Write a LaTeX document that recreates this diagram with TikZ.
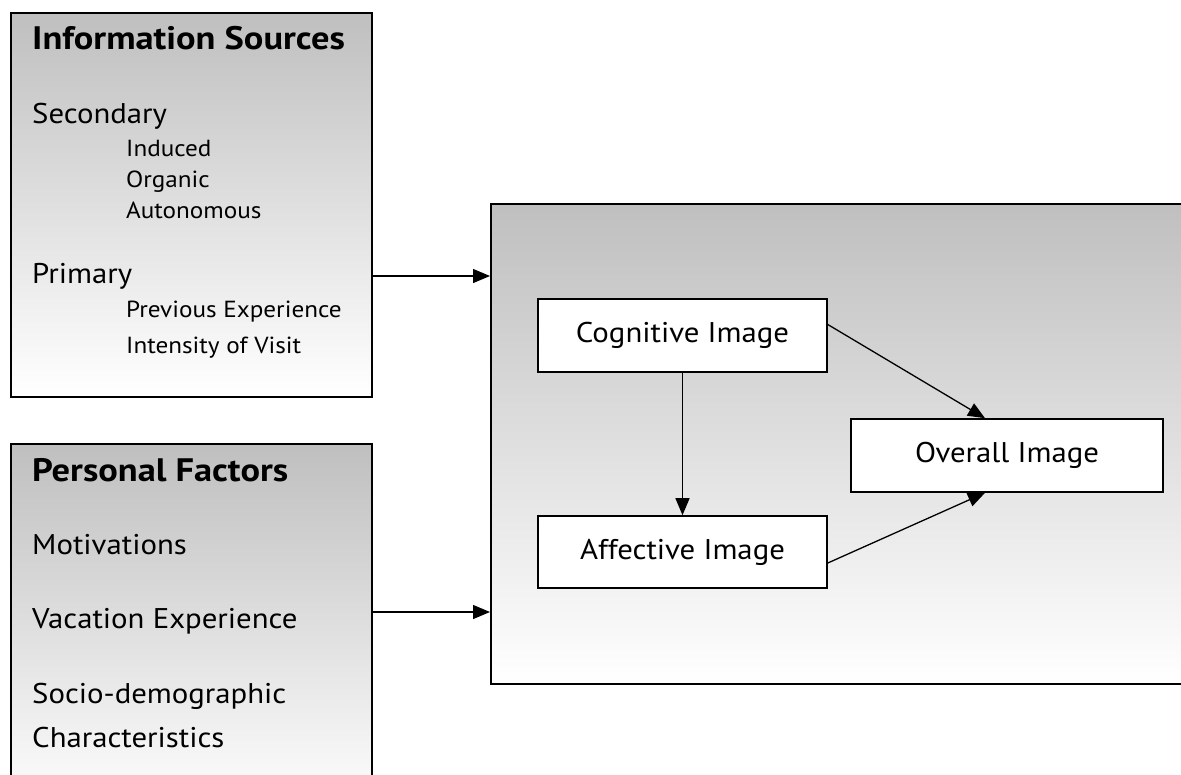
\documentclass[tikz,border=0pt]{standalone}
\usepackage{fontspec}
\setmainfont{PT Sans}[FakeStretch=1.08, BoldFeatures={FakeStretch=1.12}]
\usetikzlibrary{arrows.meta,calc}
\begin{document}
\begin{tikzpicture}[x=1pt,y=-1pt,
  panel/.style={draw=black, line width=1.6pt, top color=gray!50, bottom color=white, anchor=north west, inner sep=0pt},
  imgbox/.style={draw=black, line width=1.6pt, fill=white, inner sep=0pt, font=\fontsize{28.5}{32}\selectfont},
  head/.style={anchor=base west, inner sep=0pt, font=\fontsize{32.5}{36}\selectfont\bfseries},
  item/.style={anchor=base west, inner sep=0pt, font=\fontsize{28.5}{32}\selectfont},
  sub/.style={anchor=base west, inner sep=0pt, font=\fontsize{23.3}{27}\selectfont},
  arr/.style={line width=1.3pt, -{Triangle[length=17pt,width=14pt]}}]
\useasboundingbox (0,0) rectangle (1181,774);
\clip (0,0) rectangle (1181,774);
% panels
\node[panel, minimum width=361pt, minimum height=384pt] (info) at (10,12) {};
\node[panel, minimum width=361pt, minimum height=370pt] (pers) at (10,443) {};
\node[panel, minimum width=720pt, minimum height=480pt] (big) at (490,203) {};
% information sources text
\node[head] (ih) at (32,49) {Information Sources};
\node[item] (sec) at (32,123) {Secondary};
\node[sub] (ind) at (126,156) {Induced};
\node[sub] (org) at (126,187) {Organic};
\node[sub] (aut) at (126,218) {Autonomous};
\node[item] (pri) at (32,283) {Primary};
\node[sub] (prev) at (126,317) {Previous Experience};
\node[sub] (ints) at (126,353) {Intensity of Visit};
% personal factors text
\node[head] (ph) at (32,481) {Personal Factors};
\node[item] (mot) at (32,554) {Motivations};
\node[item] (vac) at (32,628) {Vacation Experience};
\node[item] (soc) at (32,703) {Socio-demographic};
\node[item] (cha) at (32,747) {Characteristics};
% image boxes
\node[imgbox, minimum width=289pt, minimum height=73pt] (cog) at (682.5,335.5) {Cognitive Image};
\node[imgbox, minimum width=312pt, minimum height=73pt] (ovr) at (1007,455.5) {Overall Image};
\node[imgbox, minimum width=289pt, minimum height=72pt] (aff) at (682.5,552) {Affective Image};
% connectors
\coordinate (a1) at (430,276);
\coordinate (a2) at (430,612);
\draw[arr] (a1 -| info.east) -- (a1 -| big.west);
\draw[arr] (a2 -| pers.east) -- (a2 -| big.west);
\draw[arr] (cog.south) -- (aff.north);
\draw[arr] ($(cog.east)+(0,-11)$) -- ($(ovr.north)+(-22,0)$);
\draw[arr] ($(aff.east)+(0,11)$) -- ($(ovr.south)+(-22,0)$);
\end{tikzpicture}
\end{document}
